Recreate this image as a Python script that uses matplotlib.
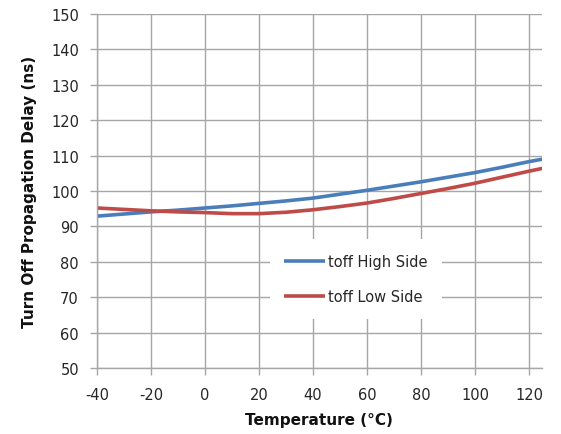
import matplotlib
matplotlib.use("Agg")
import matplotlib.pyplot as plt

temps = [-40, -30, -20, -10, 0, 10, 20, 30, 40, 50, 60, 70, 80, 90, 100, 110, 120, 125]
toff_high = [92.9, 93.5, 94.1, 94.6, 95.2, 95.8, 96.5, 97.2, 98.0, 99.1, 100.2, 101.4,
             102.6, 103.9, 105.2, 106.7, 108.3, 109.0]
toff_low = [95.2, 94.8, 94.4, 94.1, 93.9, 93.6, 93.6, 94.0, 94.7, 95.6, 96.6, 97.9,
            99.3, 100.7, 102.2, 103.9, 105.6, 106.4]
x_ticks = [-40, -20, 0, 20, 40, 60, 80, 100, 120]
y_ticks = [50, 60, 70, 80, 90, 100, 110, 120, 130, 140, 150]
labels = ["toff High Side", "toff Low Side"]

plt.rcParams['font.family'] = ['DejaVu Sans']
plt.rcParams['axes.unicode_minus'] = False

W, H = 561, 435
fig = plt.figure(figsize=(W / 100, H / 100), dpi=100)
L, R, T, B = 97, 541.7, 15, 369
ax = fig.add_axes([L / W, 1 - B / H, (R - L) / W, (B - T) / H])

grid_c = '#a6a6a6'
ax.plot(temps, toff_high, color='#4a7ebb', lw=2.6, label=labels[0], solid_capstyle='butt')
ax.plot(temps, toff_low, color='#be4b48', lw=2.6, label=labels[1], solid_capstyle='butt')

ax.set_xlim(-40, 124.7)
ax.set_ylim(50, 150)
ax.set_xticks(x_ticks)
ax.set_yticks(y_ticks)
ax.grid(True, color=grid_c, lw=1.0)
ax.set_axisbelow(True)
for s in ['top', 'right']:
    ax.spines[s].set_visible(False)
for s in ['left', 'bottom']:
    ax.spines[s].set_color(grid_c)
    ax.spines[s].set_linewidth(1.0)
ax.tick_params(axis='both', direction='out', length=5, width=1.0, color=grid_c,
               labelsize=10.5, labelcolor='#262626')
ax.tick_params(axis='y', pad=8)
ax.tick_params(axis='x', pad=9)

ax.set_xlabel('Temperature (°C)', fontsize=11, fontweight='bold', labelpad=7, color='#111111')
ax.set_ylabel('Turn Off Propagation Delay (ns)', fontsize=11, fontweight='bold', labelpad=10, color='#111111')

leg = ax.legend(loc='upper left', bbox_to_anchor=(0.388, 0.364), frameon=True,
                fancybox=False, edgecolor='none', facecolor='white', framealpha=1,
                fontsize=10.5, handlelength=2.8, handletextpad=0.2, labelspacing=1.4,
                borderpad=1.0, borderaxespad=0)
for t in leg.get_texts():
    t.set_color('#262626')

fig.savefig('out.png', dpi=100)
